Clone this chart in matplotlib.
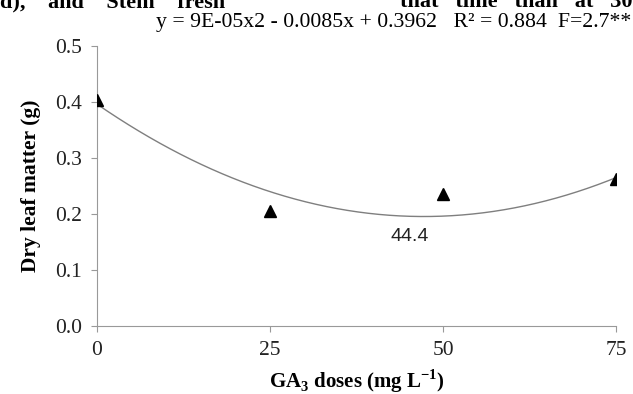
import numpy as np
import matplotlib
matplotlib.use("Agg")
import matplotlib.pyplot as plt

# data
doses = [0, 25, 50, 75]
leaf_matter = [0.404, 0.205, 0.236, 0.263]
# quadratic trendline coefficients as printed on the chart
trend_coef = [9e-05, -0.0085, 0.3962]
x_ticks = [0, 25, 50, 75]
y_ticks = [0.0, 0.1, 0.2, 0.3, 0.4, 0.5]

plt.rcParams['font.family'] = ['Liberation Serif', 'DejaVu Serif']
plt.rcParams['mathtext.fontset'] = 'custom'
plt.rcParams['mathtext.rm'] = 'Liberation Serif'
plt.rcParams['mathtext.bf'] = 'Liberation Serif:bold'

fig = plt.figure(figsize=(6.33, 3.94), dpi=100)
ax = fig.add_axes([97/633, 1 - 326/394, (616-97)/633, (326-46)/394])

xs = np.linspace(doses[0], doses[-1], 200)
ax.plot(xs, np.polyval(trend_coef, xs), color='#7f7f7f', lw=1.0, zorder=2)
ax.plot(doses, leaf_matter, linestyle='none', marker='^', color='black', ms=8.5, zorder=3)

ax.text(45.2, 0.159, '44.4', family='Liberation Sans', fontsize=14,
        ha='center', va='center', color='#222222')

ax.set_xlim(0, 75)
ax.set_ylim(0, 0.5)
ax.set_xticks(x_ticks)
ax.set_yticks(y_ticks)
ax.set_yticklabels([f'{v:.1f}' for v in y_ticks])
ax.tick_params(labelsize=15.5, colors='#999999', labelcolor='#222222',
               direction='out', length=4, width=0.8, pad=7)
for side in ['top', 'right']:
    ax.spines[side].set_visible(False)
for side in ['left', 'bottom']:
    ax.spines[side].set_color('#999999')
    ax.spines[side].set_linewidth(0.8)

ax.set_ylabel('Dry leaf matter (g)', fontsize=15.5, fontweight='bold', labelpad=10)
ax.set_xlabel('GA$_\\mathbf{3}$ doses (mg L$^{\\mathbf{-1}}$)', fontsize=15,
              fontweight='bold', labelpad=5)

fig.text(631/633, 1 - 27/394,
         'y = 9E-05x2 - 0.0085x + 0.3962   R² = 0.884  F=2.7**',
         fontsize=15.7, ha='right', va='baseline')

# clipped line of surrounding page text at the very top
fig.text(0.0, 1 - 7/394, 'd),    and    Stem    fresh', fontsize=16,
         fontweight='bold', ha='left', va='baseline')
fig.text(1.0, 1 - 7/394, 'that   time   than   at   30', fontsize=16,
         fontweight='bold', ha='right', va='baseline')

fig.savefig('out.png', dpi=100)
